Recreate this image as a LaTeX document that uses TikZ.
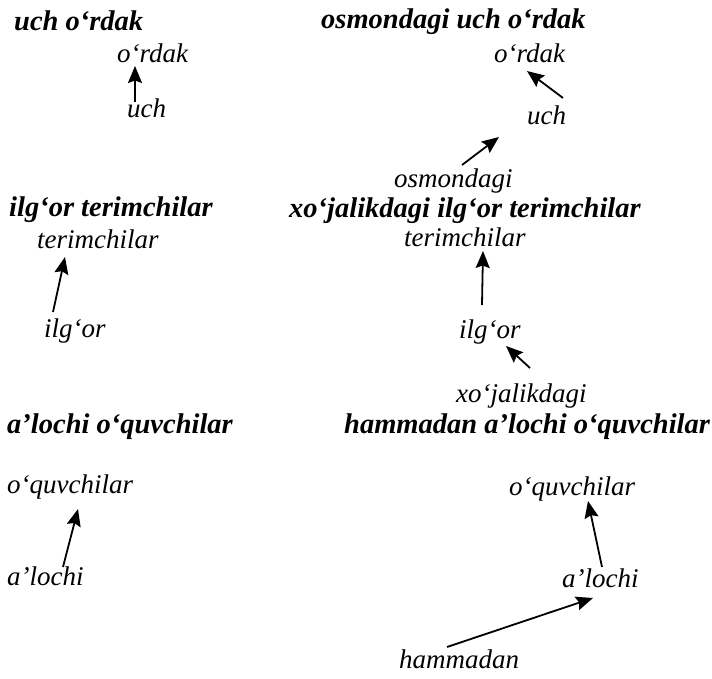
\documentclass[tikz,border=0pt]{standalone}
\usepackage{fontspec}
\setmainfont{Liberation Serif}
\usetikzlibrary{arrows.meta}
\begin{document}
\begin{tikzpicture}[x=1pt,y=-1pt,
  head/.style={anchor=base west,inner sep=0pt,font=\fontsize{28.5}{30}\selectfont\bfseries\itshape},
  word/.style={anchor=base west,inner sep=0pt,font=\fontsize{27}{30}\selectfont\itshape},
  arr/.style={line width=1.8pt,-{Stealth[length=17pt,width=14pt,inset=2.5pt]}}]
\useasboundingbox (0,0) rectangle (712,679);
% ---- left column ----
\node[head] (h1) at (14,31) {uch o‘rdak};
\node[word] (l1a) at (117,63) {o‘rdak};
\node[word] (l1b) at (127,118) {uch};
\coordinate (c1s) at (135,102); \coordinate (c1e) at (135,66);
\draw[arr] (c1s) -- (c1e);

\node[head] (h2) at (9,217) {ilg‘or terimchilar};
\node[word] (l2a) at (37,248) {terimchilar};
\node[word] (l2b) at (44,337) {ilg‘or};
\coordinate (c2s) at (53,312); \coordinate (c2e) at (65,257);
\draw[arr] (c2s) -- (c2e);

\node[head] (h3) at (7,433) {a’lochi o‘quvchilar};
\node[word] (l3a) at (7,493) {o‘quvchilar};
\node[word] (l3b) at (7,585) {a’lochi};
\coordinate (c3s) at (63,567); \coordinate (c3e) at (78,509);
\draw[arr] (c3s) -- (c3e);

% ---- right column ----
\node[head] (h4) at (321,29) {osmondagi uch o‘rdak};
\node[word] (r1a) at (494,63) {o‘rdak};
\node[word] (r1b) at (527,125) {uch};
\node[word] (r1c) at (394,188) {osmondagi};
\coordinate (d1s) at (563,98); \coordinate (d1e) at (527,71);
\draw[arr] (d1s) -- (d1e);
\coordinate (d2s) at (462,165); \coordinate (d2e) at (499,137);
\draw[arr] (d2s) -- (d2e);

\node[head] (h5) at (289,218) {xo‘jalikdagi ilg‘or terimchilar};
\node[word] (r2a) at (404,247) {terimchilar};
\node[word] (r2b) at (459,338) {ilg‘or};
\node[word] (r2c) at (456,402) {xo‘jalikdagi};
\coordinate (d3s) at (482,305); \coordinate (d3e) at (483,251);
\draw[arr] (d3s) -- (d3e);
\coordinate (d4s) at (530,368); \coordinate (d4e) at (506,346);
\draw[arr] (d4s) -- (d4e);

\node[head] (h6) at (344,433) {hammadan a’lochi o‘quvchilar};
\node[word] (r3a) at (509,495) {o‘quvchilar};
\node[word] (r3b) at (562,587) {a’lochi};
\node[word] (r3c) at (399,668) {hammadan};
\coordinate (d5s) at (602,567); \coordinate (d5e) at (588,501);
\draw[arr] (d5s) -- (d5e);
\coordinate (d6s) at (447,647); \coordinate (d6e) at (593,598);
\draw[arr] (d6s) -- (d6e);
\end{tikzpicture}
\end{document}
